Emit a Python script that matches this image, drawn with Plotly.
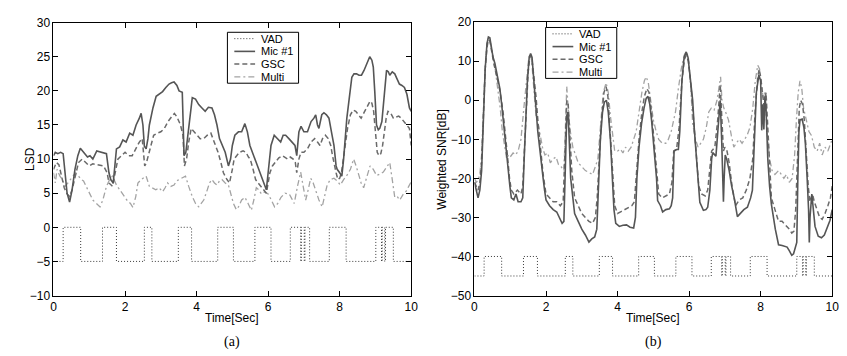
import plotly.graph_objects as go

# ---------------- data ----------------
# VAD intervals (speech on / off times, seconds)
VAD_ON = [0.27, 1.37, 2.54, 3.49, 4.59, 5.63, 6.62, 6.93, 7.03, 7.71, 9.01, 9.19, 9.28]
VAD_OFF = [0.76, 1.76, 2.75, 3.86, 5.03, 6.08, 6.91, 7.01, 7.16, 8.18, 9.17, 9.26, 9.50]
VAD_LEVELS_A = (0, -5)
VAD_LEVELS_B = (-40, -45)

# (a) LSD
LSD_MIC_T = [0.0, 0.05, 0.12, 0.2, 0.27, 0.32, 0.38, 0.45, 0.52, 0.6, 0.68, 0.75, 0.85, 0.95, 1.02, 1.1, 1.21, 1.35, 1.48, 1.55, 1.6, 1.67, 1.72, 1.76, 1.85, 1.94, 2.03, 2.13, 2.22, 2.31, 2.4, 2.45, 2.5, 2.54, 2.59, 2.64, 2.68, 2.78, 2.87, 2.96, 3.05, 3.14, 3.23, 3.3, 3.37, 3.45, 3.51, 3.6, 3.65, 3.7, 3.79, 3.88, 3.97, 4.06, 4.15, 4.24, 4.33, 4.43, 4.5, 4.57, 4.64, 4.71, 4.8, 4.89, 4.95, 5.0, 5.07, 5.17, 5.26, 5.35, 5.42, 5.49, 5.56, 5.63, 5.72, 5.81, 5.88, 5.95, 6.0, 6.05, 6.08, 6.17, 6.26, 6.35, 6.42, 6.49, 6.58, 6.68, 6.75, 6.8, 6.86, 6.92, 7.0, 7.1, 7.2, 7.28, 7.33, 7.38, 7.42, 7.5, 7.56, 7.63, 7.7, 7.77, 7.84, 7.9, 7.93, 8.0, 8.06, 8.11, 8.15, 8.2, 8.27, 8.34, 8.4, 8.47, 8.54, 8.61, 8.68, 8.75, 8.84, 8.9, 8.94, 8.98, 9.03, 9.08, 9.12, 9.18, 9.21, 9.26, 9.31, 9.36, 9.4, 9.47, 9.54, 9.6, 9.67, 9.74, 9.81, 9.88, 9.95, 10.0]
LSD_MIC = [10.5, 11, 10.8, 11, 10.8, 8, 5, 3.7, 5.5, 8.5, 10.5, 11.6, 11, 10.3, 10.5, 10, 11.2, 11, 10.8, 8, 7, 6.5, 9, 11.5, 11.8, 12.8, 12.5, 13.8, 13.5, 15, 16, 16.7, 15, 11.9, 11.5, 13, 15, 17.5, 19.2, 19.5, 19.9, 20.5, 21, 21.2, 21.3, 20.8, 20, 19.8, 10.5, 11, 15, 19, 18.8, 18, 17.5, 17, 17.6, 17.5, 16.5, 15, 13, 12, 11, 9, 10, 12, 13.5, 14, 14, 15.2, 14, 12, 11, 10, 8.5, 7.5, 6.5, 5.5, 8, 11, 12, 13.5, 13, 12.5, 13.5, 13.5, 13, 12.5, 12, 10.5, 14, 14.8, 14, 14, 15.5, 16, 16.5, 15, 14.5, 16.5, 16.8, 16.5, 16, 14, 12, 9, 8.5, 8, 7.5, 10, 13, 16, 19, 22, 22.5, 22.5, 22.3, 22.3, 23, 24, 25, 24.5, 23.5, 20, 15, 14.3, 14.5, 15.5, 17, 20, 23, 22.8, 22.3, 22.8, 22.5, 21.8, 21, 20.8, 20.5, 19.5, 17.5, 17]

LSD_GSC_T = [0.0, 0.08, 0.15, 0.22, 0.3, 0.38, 0.45, 0.52, 0.6, 0.7, 0.8, 0.9, 1.0, 1.1, 1.2, 1.3, 1.4, 1.5, 1.55, 1.65, 1.72, 1.8, 1.9, 2.0, 2.1, 2.2, 2.3, 2.4, 2.48, 2.55, 2.6, 2.68, 2.8, 2.9, 3.0, 3.1, 3.2, 3.3, 3.38, 3.45, 3.55, 3.62, 3.66, 3.72, 3.78, 3.85, 3.93, 4.0, 4.1, 4.2, 4.3, 4.4, 4.5, 4.6, 4.68, 4.75, 4.85, 4.92, 5.0, 5.05, 5.12, 5.2, 5.3, 5.38, 5.45, 5.5, 5.58, 5.65, 5.72, 5.8, 5.88, 5.95, 6.0, 6.05, 6.12, 6.2, 6.3, 6.4, 6.48, 6.55, 6.62, 6.7, 6.76, 6.8, 6.86, 6.92, 7.0, 7.1, 7.2, 7.3, 7.38, 7.45, 7.52, 7.6, 7.68, 7.75, 7.8, 7.85, 7.9, 7.95, 8.0, 8.05, 8.1, 8.15, 8.22, 8.3, 8.38, 8.45, 8.52, 8.6, 8.68, 8.75, 8.8, 8.85, 8.9, 8.95, 9.0, 9.05, 9.1, 9.15, 9.2, 9.25, 9.3, 9.35, 9.42, 9.5, 9.58, 9.65, 9.72, 9.8, 9.88, 9.95, 10.0]
LSD_GSC = [8.5, 9.5, 9.2, 7.6, 5.8, 4.9, 4.5, 5.5, 7.5, 9.5, 10, 9.5, 9, 9.3, 9.2, 9, 9, 8, 6.5, 6, 8, 10, 10.5, 11, 10.5, 10.5, 11.5, 12.5, 13, 9, 9.5, 11, 13.5, 13.8, 14, 14.5, 15.5, 16.2, 16.7, 16.2, 15, 13.5, 9, 10, 12.5, 14.5, 14, 13.5, 13, 13, 13.5, 13.8, 12.5, 11, 9.5, 8, 7, 6.5, 8.5, 10, 10.5, 11, 11.2, 11, 10.3, 10, 8.5, 7, 6.5, 6, 5.5, 5, 6.5, 8, 9, 9.5, 10.2, 10.5, 10.2, 10, 10.3, 10, 9.5, 8, 10, 11, 11, 11.5, 12.5, 13, 12.5, 12, 13, 13.5, 13, 12, 10.5, 9, 8, 7, 7.2, 8, 10, 12, 14.5, 16.5, 17.2, 17, 16.5, 16, 16.8, 17.5, 18, 18.5, 18.2, 17, 14, 11, 10.5, 10.8, 12, 14, 16, 17, 16.8, 16, 16.2, 16.3, 16, 15.5, 15, 14.5, 12]

LSD_MULTI_T = [0.0, 0.05, 0.1, 0.18, 0.25, 0.32, 0.4, 0.47, 0.55, 0.62, 0.7, 0.78, 0.84, 0.92, 1.02, 1.1, 1.2, 1.3, 1.38, 1.48, 1.57, 1.65, 1.76, 1.85, 1.94, 2.05, 2.15, 2.22, 2.3, 2.36, 2.45, 2.52, 2.59, 2.68, 2.77, 2.86, 2.95, 3.05, 3.12, 3.19, 3.28, 3.37, 3.44, 3.51, 3.6, 3.69, 3.78, 3.88, 3.97, 4.06, 4.13, 4.2, 4.3, 4.36, 4.43, 4.5, 4.57, 4.64, 4.71, 4.8, 4.89, 4.96, 5.03, 5.11, 5.17, 5.26, 5.35, 5.44, 5.53, 5.6, 5.67, 5.74, 5.81, 5.9, 6.0, 6.09, 6.18, 6.27, 6.36, 6.47, 6.59, 6.66, 6.73, 6.82, 6.91, 6.98, 7.05, 7.12, 7.19, 7.26, 7.33, 7.42, 7.51, 7.58, 7.65, 7.74, 7.84, 7.93, 8.02, 8.11, 8.2, 8.3, 8.39, 8.46, 8.53, 8.6, 8.67, 8.76, 8.85, 8.94, 9.03, 9.12, 9.22, 9.31, 9.4, 9.47, 9.54, 9.61, 9.68, 9.77, 9.86, 9.93, 10.0]
LSD_MULTI = [8, 6.5, 8.5, 7.5, 7, 6, 6.5, 7, 7.5, 8, 7.5, 7, 6.8, 6, 4.8, 4, 3.5, 3.0, 4, 6, 7, 7.5, 6.2, 5.5, 4.9, 4, 3.5, 2.9, 4.5, 6.5, 7, 7.2, 7.5, 6, 5.8, 5.5, 5.8, 5.2, 5.8, 6.5, 6, 6.2, 6.8, 7, 7.2, 7.5, 6, 4.5, 3.5, 3, 3.5, 4, 5.5, 6.5, 7, 6.5, 6.2, 6.8, 7, 6.5, 6.2, 4.8, 3.5, 2.6, 3, 4, 4.4, 3.5, 2.5, 4, 5.8, 5.5, 4.9, 5.2, 4.9, 4, 3, 3.5, 4.4, 5, 4.9, 4.2, 3.5, 6, 8.1, 6, 4, 5.5, 7.2, 6.5, 5.3, 4, 3, 4.5, 6.2, 7, 7.2, 6.8, 6.2, 7, 7.6, 8.5, 10, 9, 7.6, 6.5, 5.8, 7.5, 9, 8.5, 7.6, 7.8, 8.1, 8.8, 9.5, 7, 4.4, 4.5, 4, 4.8, 5.3, 6, 6.7]

# (b) Weighted SNR [dB]
SNR_MIC_T = [0.0, 0.05, 0.1, 0.15, 0.2, 0.25, 0.3, 0.35, 0.39, 0.43, 0.48, 0.52, 0.57, 0.64, 0.71, 0.76, 0.8, 0.85, 0.89, 0.94, 0.99, 1.03, 1.1, 1.16, 1.22, 1.3, 1.35, 1.39, 1.44, 1.48, 1.53, 1.57, 1.61, 1.65, 1.7, 1.77, 1.82, 1.86, 1.92, 1.96, 2.0, 2.1, 2.2, 2.3, 2.38, 2.45, 2.5, 2.54, 2.58, 2.61, 2.64, 2.69, 2.74, 2.8, 2.9, 3.0, 3.1, 3.2, 3.28, 3.36, 3.42, 3.47, 3.52, 3.58, 3.63, 3.69, 3.74, 3.8, 3.85, 3.9, 3.95, 4.05, 4.15, 4.25, 4.35, 4.45, 4.5, 4.54, 4.6, 4.67, 4.74, 4.8, 4.85, 4.9, 4.95, 5.02, 5.09, 5.12, 5.2, 5.26, 5.35, 5.45, 5.5, 5.54, 5.58, 5.65, 5.7, 5.74, 5.8, 5.86, 5.92, 5.97, 6.03, 6.1, 6.15, 6.2, 6.25, 6.3, 6.4, 6.47, 6.52, 6.58, 6.63, 6.66, 6.75, 6.8, 6.87, 6.91, 6.94, 6.96, 6.98, 7.01, 7.05, 7.12, 7.19, 7.26, 7.35, 7.44, 7.53, 7.63, 7.72, 7.77, 7.83, 7.88, 7.95, 8.0, 8.03, 8.06, 8.09, 8.12, 8.15, 8.2, 8.25, 8.3, 8.41, 8.5, 8.6, 8.74, 8.8, 8.87, 8.92, 8.98, 9.01, 9.04, 9.07, 9.1, 9.16, 9.21, 9.25, 9.3, 9.34, 9.36, 9.38, 9.43, 9.5, 9.52, 9.61, 9.7, 9.78, 9.84, 9.94, 10.0]
SNR_MIC = [-21, -23, -25, -23, -18, -5, 8, 14.5, 16.2, 16, 13, 11, 9.5, 6, 3, -1, -5, -9, -12.6, -17, -22, -25, -25.5, -24, -26, -26, -25, -15, -3, 5, 11, 12, 11, 6, 2, -8, -12, -16, -20, -23, -25.5, -27, -28, -28.6, -30, -31.5, -31, -15, -4, -3, -8, -20, -25, -29, -31, -33, -34.5, -36.3, -35.5, -35, -33, -20, -10, -3, -0.5, 0, -3, -10, -20, -28, -31.5, -32.3, -32, -31.9, -32.5, -32.7, -30, -20, -12, -6, -2, 0.5, 1, -1, -5, -12, -20, -25.7, -27, -28.6, -28, -27.8, -27, -25, -13, -12.6, -12.6, -8, 5, 11, 12.4, 11, 5, 0, -8, -15, -22, -26.1, -28.2, -28, -27.4, -23, -15, -13.4, -14.3, -8, 0, -10, -20, -26, -20, -14, -15, -18, -22, -25, -29.8, -29, -28, -27.4, -25, -23, -10, 2, 6.5, 5, -7.7, -1, -7.5, 1, -2, -15, -22, -26.6, -33, -37, -37.2, -37.6, -38.5, -39.7, -39.3, -37, -36.4, -20, -8, -5, -4.8, -7, -11, -20, -28, -36.4, -30, -24, -30, -32.3, -34.8, -35.2, -34.5, -33, -30.7, -28]

SNR_GSC_T = [0.0, 0.05, 0.1, 0.15, 0.2, 0.25, 0.3, 0.35, 0.39, 0.43, 0.48, 0.55, 0.64, 0.72, 0.8, 0.86, 0.92, 0.98, 1.03, 1.1, 1.2, 1.3, 1.35, 1.4, 1.45, 1.5, 1.55, 1.6, 1.65, 1.72, 1.78, 1.85, 1.92, 2.0, 2.1, 2.2, 2.3, 2.4, 2.48, 2.53, 2.58, 2.62, 2.66, 2.72, 2.8, 2.9, 3.0, 3.1, 3.2, 3.3, 3.38, 3.43, 3.48, 3.55, 3.62, 3.68, 3.73, 3.8, 3.86, 3.92, 4.0, 4.1, 4.2, 4.3, 4.4, 4.47, 4.53, 4.6, 4.68, 4.75, 4.82, 4.88, 4.95, 5.03, 5.1, 5.15, 5.25, 5.35, 5.45, 5.52, 5.57, 5.65, 5.72, 5.8, 5.87, 5.92, 5.98, 6.05, 6.12, 6.2, 6.27, 6.35, 6.45, 6.52, 6.58, 6.63, 6.72, 6.8, 6.87, 6.92, 6.96, 7.0, 7.06, 7.12, 7.2, 7.3, 7.4, 7.5, 7.6, 7.7, 7.78, 7.85, 7.92, 7.96, 8.0, 8.05, 8.1, 8.15, 8.2, 8.25, 8.3, 8.4, 8.5, 8.6, 8.7, 8.8, 8.87, 8.93, 8.98, 9.03, 9.08, 9.12, 9.17, 9.22, 9.28, 9.33, 9.38, 9.45, 9.5, 9.58, 9.65, 9.72, 9.8, 9.88, 9.95, 10.0]
SNR_GSC = [-21, -22, -23, -21, -16, -4, 8, 13.5, 15.5, 15.2, 12.5, 9, 5.5, 2, -3, -8, -14, -20, -23, -24, -23, -24, -22, -12, -1, 7, 11.5, 11, 7, 1, -6, -13, -19, -24, -25, -26, -26, -27, -26, -10, 0, -1, -8, -18, -25, -27, -29, -30, -31, -31.5, -30, -25, -15, -5, 2, 3.5, 1, -8, -18, -27, -29, -28.5, -28, -27.5, -27, -26, -18, -10, -3, 1, 3, 2, -3, -12, -20, -24, -25, -24.5, -24, -21, -13, -12.5, -7, 5, 10.5, 11.5, 10, 4, -4, -14, -22, -24, -24.5, -23, -18, -13, -12, -5, 4, -5, -13, -12, -13, -16, -22, -27, -25.5, -25, -23, -20, -15, -2, 6, 8, 6, 2, -2, 2, -8, -18, -25, -28, -31, -31, -32, -33, -34, -33.5, -28, -12, -2, 0, -1, -5, -15, -22, -26, -24, -26, -28, -30, -30.5, -29, -27, -25, -22]

SNR_MULTI_T = [0.0, 0.05, 0.1, 0.15, 0.2, 0.25, 0.3, 0.35, 0.39, 0.43, 0.5, 0.58, 0.65, 0.72, 0.78, 0.84, 0.9, 0.95, 1.0, 1.08, 1.15, 1.22, 1.3, 1.38, 1.45, 1.52, 1.56, 1.6, 1.66, 1.72, 1.76, 1.82, 1.9, 1.97, 2.05, 2.12, 2.2, 2.28, 2.35, 2.42, 2.5, 2.55, 2.58, 2.62, 2.68, 2.75, 2.82, 2.9, 3.0, 3.1, 3.2, 3.3, 3.38, 3.45, 3.52, 3.6, 3.68, 3.74, 3.8, 3.87, 3.92, 4.0, 4.08, 4.15, 4.22, 4.3, 4.38, 4.45, 4.52, 4.6, 4.68, 4.75, 4.8, 4.86, 4.92, 5.0, 5.08, 5.15, 5.25, 5.35, 5.42, 5.5, 5.57, 5.62, 5.7, 5.78, 5.86, 5.92, 5.98, 6.05, 6.1, 6.18, 6.25, 6.32, 6.4, 6.48, 6.55, 6.62, 6.7, 6.78, 6.85, 6.88, 6.92, 6.97, 7.02, 7.1, 7.18, 7.25, 7.32, 7.4, 7.48, 7.55, 7.62, 7.7, 7.78, 7.85, 7.92, 7.97, 8.02, 8.08, 8.12, 8.18, 8.25, 8.32, 8.4, 8.5, 8.58, 8.65, 8.72, 8.8, 8.88, 8.95, 9.0, 9.05, 9.1, 9.15, 9.2, 9.28, 9.35, 9.42, 9.5, 9.58, 9.65, 9.72, 9.8, 9.88, 9.95, 10.0]
SNR_MULTI = [-20, -21, -20.5, -19, -14, -3, 9, 14.5, 16, 15.5, 12, 8, 3, -2, -8, -12, -15, -14, -14.5, -13.5, -14, -13, -10, -2, 5, 11, 12, 10, 3, -4, -5, -8, -12, -14, -13.5, -16, -15, -14.5, -16.5, -17, -18, -5, 3.5, -2, -8, -12, -14, -16, -17, -18, -18.5, -19, -17, -15, -7, 2, 4.5, 2, -4, -10, -13, -13, -12.5, -13.5, -12, -13, -12, -10, -8, -3, 2, 5, 6, 4.5, 0, -5, -8, -10, -11, -11, -10, -8, -5, -3, 3, 8, 11.5, 12.5, 11, 3, -6, -10, -12, -11, -10, -7, -3, -2, -2.5, 0, 5, 6, 0, -2, -3, -5, -9, -12, -11, -10, -11, -10, -9, -7, -2, 5, 9, 8, 4, 0, 2, -8, -15, -18, -19, -18, -19, -20, -19, -21, -20, -14, -5, 2, 5, 3, -2, -5, -8, -9, -12, -13, -11, -14, -12, -13, -11, -10]

LEGEND_NAMES = ["VAD", "Mic #1", "GSC", "Multi"]
X_TICKS = [0, 2, 4, 6, 8, 10]

# ---------------- styles ----------------
W, H = 847, 356
STYLE = {
    "VAD": dict(color="#3a3a3a", width=1, dash="1px,2px"),
    "Mic #1": dict(color="#555555", width=1.6, dash="solid"),
    "GSC": dict(color="#6a6a6a", width=1.5, dash="5px,3px"),
    "Multi": dict(color="#a3a3a3", width=1.3, dash="6px,3px,2px,3px"),
}
FONT = "Liberation Sans, Arial, Helvetica, sans-serif"


def vad_xy(levels):
    hi, lo = levels
    xs, ys = [0.0], [lo]
    for on, off in zip(VAD_ON, VAD_OFF):
        xs += [on, off]
        ys += [hi, lo]
    xs.append(10.0)
    ys.append(lo)
    return xs, ys


fig = go.Figure()

panels = [
    ("x", "y", VAD_LEVELS_A, [(LSD_MIC_T, LSD_MIC), (LSD_GSC_T, LSD_GSC), (LSD_MULTI_T, LSD_MULTI)]),
    ("x2", "y2", VAD_LEVELS_B, [(SNR_MIC_T, SNR_MIC), (SNR_GSC_T, SNR_GSC), (SNR_MULTI_T, SNR_MULTI)]),
]
for xa, ya, lv, series in panels:
    vx, vy = vad_xy(lv)
    fig.add_trace(go.Scatter(x=vx, y=vy, mode="lines", line=dict(**STYLE["VAD"], shape="hv"),
                             xaxis=xa, yaxis=ya, showlegend=False, hoverinfo="skip"))
    # draw Multi first, then GSC, then Mic on top
    for name, (tx, ty) in reversed(list(zip(LEGEND_NAMES[1:], series))):
        fig.add_trace(go.Scatter(x=tx, y=ty, mode="lines", line=STYLE[name], name=name,
                                 xaxis=xa, yaxis=ya, showlegend=False, hoverinfo="skip"))


def px_x(p):
    return p / W


def px_y(p):
    return 1 - p / H


# axes domains (pixel positions of reference)
AX = {
    "a": dict(x0=43, x1=405, y0=8, y1=292, ytoff=24),
    "b": dict(x0=469, x1=831, y0=7.5, y1=292, ytoff=33),
}

axis_common = dict(showline=True, linecolor="black", linewidth=1, mirror="ticks", ticks="inside",
                   ticklen=5, tickcolor="black", showgrid=False, zeroline=False,
                   tickfont=dict(family=FONT, size=12, color="black"))

fig.update_layout(
    width=W, height=H, margin=dict(l=0, r=0, t=0, b=0),
    paper_bgcolor="white", plot_bgcolor="white", showlegend=False,
    xaxis=dict(domain=[px_x(AX["a"]["x0"]), px_x(AX["a"]["x1"])], range=[0, 10], tickvals=X_TICKS,
               anchor="y", **axis_common),
    yaxis=dict(domain=[px_y(AX["a"]["y1"]), px_y(AX["a"]["y0"])], range=[-10, 30], dtick=5,
               anchor="x", **axis_common),
    xaxis2=dict(domain=[px_x(AX["b"]["x0"]), px_x(AX["b"]["x1"])], range=[0, 10], tickvals=X_TICKS,
                anchor="y2", **axis_common),
    yaxis2=dict(domain=[px_y(AX["b"]["y1"]), px_y(AX["b"]["y0"])], range=[-50, 20], dtick=10,
                anchor="x2", **axis_common),
)

annotations = []
shapes = []
# axis titles and captions
for key, ytitle, cap in [("a", "LSD", "(a)"), ("b", "Weighted SNR[dB]", "(b)")]:
    a = AX[key]
    cx = (a["x0"] + a["x1"]) / 2
    annotations.append(dict(text="Time[Sec]", x=px_x(cx), y=px_y(315), xref="paper", yref="paper",
                            showarrow=False, xanchor="center", yanchor="middle",
                            font=dict(family=FONT, size=12, color="black")))
    annotations.append(dict(text=cap, x=px_x(cx), y=px_y(340), xref="paper", yref="paper",
                            showarrow=False, xanchor="center", yanchor="middle",
                            font=dict(family="Liberation Serif, Times New Roman, serif", size=14, color="black")))
    annotations.append(dict(text=ytitle, x=px_x(a["x0"] - a["ytoff"]), y=px_y((a["y0"] + a["y1"]) / 2),
                            xref="paper", yref="paper", showarrow=False, textangle=-90,
                            xanchor="center", yanchor="middle",
                            font=dict(family=FONT, size=12, color="black")))

# legends drawn as boxes (pixel layout of the reference)
LEG = {"a": (219, 18, 291, 71), "b": (541, 13, 613, 66)}
for key, (lx0, ly0, lx1, ly1) in LEG.items():
    shapes.append(dict(type="rect", xref="paper", yref="paper", x0=px_x(lx0), x1=px_x(lx1),
                       y0=px_y(ly1), y1=px_y(ly0), line=dict(color="black", width=1),
                       fillcolor="white", layer="above"))
    row_h = (ly1 - ly0) / 4
    for i, name in enumerate(LEGEND_NAMES):
        cy = ly0 + row_h * (i + 0.5)
        st = STYLE[name]
        shapes.append(dict(type="line", xref="paper", yref="paper", x0=px_x(lx0 + 7), x1=px_x(lx0 + 28),
                           y0=px_y(cy), y1=px_y(cy), layer="above",
                           line=dict(color=st["color"], width=st["width"], dash=st["dash"])))
        annotations.append(dict(text=name, x=px_x(lx0 + 32), y=px_y(cy), xref="paper", yref="paper",
                                showarrow=False, xanchor="left", yanchor="middle",
                                font=dict(family=FONT, size=11, color="black")))

fig.update_layout(annotations=annotations, shapes=shapes)
fig.write_html("out.html")
